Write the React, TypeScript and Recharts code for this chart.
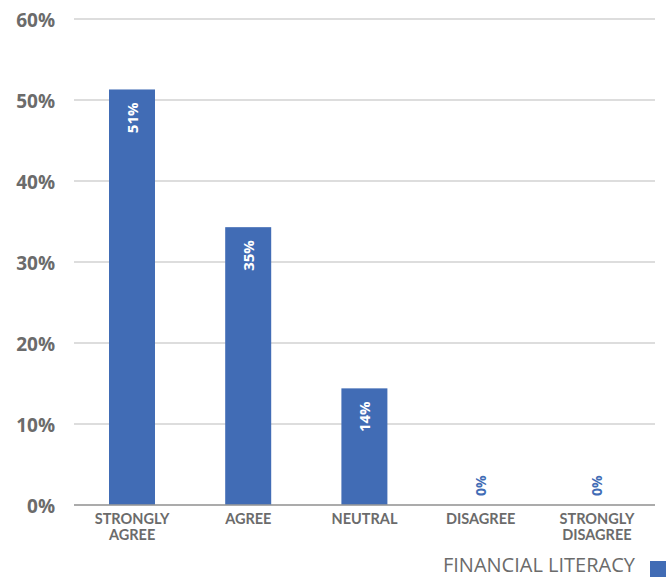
import { Bar, BarChart, CartesianGrid, XAxis, YAxis } from "recharts";

const categories = ["STRONGLY AGREE", "AGREE", "NEUTRAL", "DISAGREE", "STRONGLY DISAGREE"];
const shares = [51.3, 34.3, 14.4, 0, 0];
const shareLabels = ["51%", "35%", "14%", "0%", "0%"];
const yTicks = [0, 10, 20, 30, 40, 50, 60];
const seriesName = "FINANCIAL LITERACY";

const data = categories.map((c, i) => ({ category: c, share: shares[i], label: shareLabels[i] }));

const BLUE = "#416cb5";
const GREY = "#6b6b6b";
const FONT = "'Open Sans', sans-serif";

function XTick({ x, y, payload }: any) {
  const words = String(payload.value).split(" ");
  const lines = words.length > 1 ? [words[0], words.slice(1).join(" ")] : words;
  return (
    <text x={x} y={y} textAnchor="middle" fill={GREY} fontFamily="Lato, sans-serif" fontWeight={700} fontSize={14.5}>
      {lines.map((l, i) => (
        <tspan key={i} x={x} dy={i === 0 ? 11 : 16}>
          {l}
        </tspan>
      ))}
    </text>
  );
}

function YTick({ y, payload }: any) {
  return (
    <text x={55} y={y} dy={8} textAnchor="end" fill={GREY} fontFamily={FONT} fontWeight={700} fontSize={19}>
      {payload.value}%
    </text>
  );
}

// bar plus its rotated value label; zero bars still get their label
function BarWithLabel({ x, y, width, height, index }: any) {
  const cx = x + width / 2;
  const text = shareLabels[index];
  const zero = shares[index] === 0;
  const ay = zero ? y + height - 9 : y + 13;
  return (
    <g>
      {height > 0 && <rect x={x} y={y} width={width} height={height} fill={BLUE} />}
      <text
        x={cx}
        y={ay}
        transform={`rotate(-90 ${cx} ${ay})`}
        textAnchor={zero ? "start" : "end"}
        dominantBaseline="central"
        fill={zero ? BLUE : "#ffffff"}
        fontFamily={FONT}
        fontWeight={700}
        fontSize={zero ? 14 : 15}
      >
        {text}
      </text>
    </g>
  );
}

export default function App() {
  return (
    <div style={{ position: "absolute", left: 0, top: 0, width: 666, height: 577, background: "#fff" }}>
      <BarChart width={666} height={577} data={data} margin={{ top: 19, right: 11, bottom: 0, left: 0 }}>
        <CartesianGrid vertical={false} stroke="#d2d2d2" strokeWidth={1.5} />
        <XAxis
          dataKey="category"
          height={72}
          tick={<XTick />}
          tickLine={false}
          axisLine={{ stroke: "#9a9a9a", strokeWidth: 1.5 }}
          interval={0}
        />
        <YAxis
          domain={[0, 60]}
          ticks={yTicks}
          width={74}
          tick={<YTick />}
          tickLine={false}
          axisLine={false}
        />
        <Bar dataKey="share" name={seriesName} fill={BLUE} barSize={46} shape={<BarWithLabel />} isAnimationActive={false} />
      </BarChart>
      <div
        style={{
          position: "absolute",
          right: 0,
          top: 552,
          display: "flex",
          alignItems: "center",
          fontFamily: FONT,
        }}
      >
        <span style={{ fontSize: 20, color: GREY, marginRight: 15, lineHeight: "26px" }}>{seriesName}</span>
        <span style={{ display: "inline-block", width: 16, height: 16, marginTop: 8, background: BLUE }} />
      </div>
    </div>
  );
}
